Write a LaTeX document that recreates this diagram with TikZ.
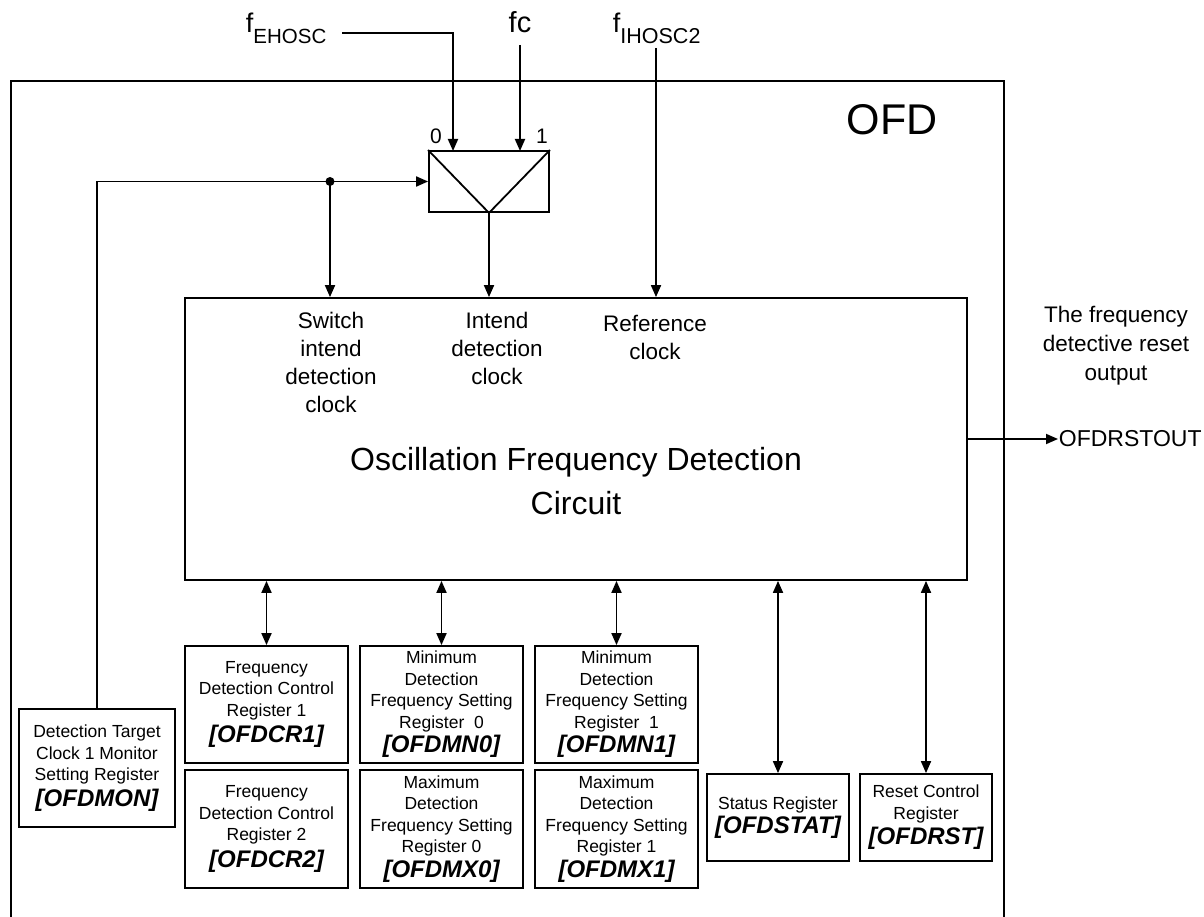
\documentclass[tikz,border=0pt]{standalone}
\usepackage{fontspec}
\setmainfont{Liberation Sans}
\usetikzlibrary{arrows.meta,calc}
\newcommand\fsz[2]{\fontsize{#1}{#2}\selectfont}
\newcommand\regname[1]{{\fsz{24}{26}\bfseries\itshape #1}}
\begin{document}
\begin{tikzpicture}[x=1pt,y=-1pt,line width=1.8pt,
  >={Triangle[length=12pt,width=10pt]},
  reg/.style={draw,align=center,inner sep=0pt,font=\fsz{17.5}{21.5}},
  lbl/.style={align=center,inner sep=0pt}]
\useasboundingbox (0,0) rectangle (1204,917);
% outer OFD frame (bottom is cut off)
\draw (11,917) -- (11,81) -- (1004,81) -- (1004,917);
\node[lbl,font=\fsz{43}{43}] (ofd) at (892,120) {OFD};

% multiplexer
\node[draw,minimum width=120pt,minimum height=61pt,inner sep=0pt] (mux) at (489,181.5) {};
\draw (mux.north west) -- (mux.south) -- (mux.north east);
\node[lbl,font=\fsz{21}{21}] (l0) at (436,136) {0};
\node[lbl,font=\fsz{21}{21}] (l1) at (542,136) {1};
\coordinate (in0) at (453,151);
\coordinate (in1) at (520,151);

% inputs
\node[inner sep=0pt,anchor=base west,font=\fsz{27}{27}] (fe) at (245,33) {f\raisebox{-11pt}{\fsz{20.5}{20.5}EHOSC}};
\node[inner sep=0pt,anchor=base,font=\fsz{29}{29}] (fc) at (520,33) {fc};
\node[inner sep=0pt,anchor=base west,font=\fsz{27}{27}] (fi) at (612,33) {f\raisebox{-11pt}{\fsz{21.5}{21.5}IHOSC2}};
\coordinate (ri) at (656,48);

% main circuit
\node[draw,minimum width=782pt,minimum height=282pt,inner sep=0pt] (main) at (576,439) {};
\node[lbl,font=\fsz{32}{44}] (title) at (576,481) {Oscillation Frequency Detection\\Circuit};
\node[lbl,font=\fsz{22.5}{28}] (swl) at (331,362) {Switch\\intend\\detection\\clock};
\node[lbl,font=\fsz{22.5}{28}] (inl) at (497,348) {Intend\\detection\\clock};
\node[lbl,font=\fsz{22.5}{28}] (rfl) at (655,337) {Reference\\clock};

% select line branch point
\coordinate (dot) at (330,181.5);
\fill (dot) circle (4.5pt);

% output
\node[lbl,font=\fsz{22.5}{29}] (outtxt) at (1116,346) {The frequency\\detective reset\\output};
\node[inner sep=0pt,anchor=west,font=\fsz{23}{23}] (out) at (1058,439) {OFDRSTOUT};

% registers
\node[reg,minimum width=156pt,minimum height=118pt] (mon) at (97,768) {Detection Target\\Clock 1 Monitor\\Setting Register\\[4pt]\regname{[OFDMON]}};
\node[reg,minimum width=163pt,minimum height=117pt] (cr1) at (266.5,704.5) {Frequency\\Detection Control\\Register 1\\[5pt]\regname{[OFDCR1]}};
\node[reg,minimum width=163pt,minimum height=118pt] (cr2) at (266.5,829) {Frequency\\Detection Control\\Register 2\\[5pt]\regname{[OFDCR2]}};
\node[reg,minimum width=163pt,minimum height=117pt] (mn0) at (441.5,704.5) {Minimum\\Detection\\Frequency Setting\\Register~~0\\[3pt]\regname{[OFDMN0]}};
\node[reg,minimum width=163pt,minimum height=118pt] (mx0) at (441.5,829) {Maximum\\Detection\\Frequency Setting\\Register 0\\[3pt]\regname{[OFDMX0]}};
\node[reg,minimum width=163pt,minimum height=117pt] (mn1) at (616.5,704.5) {Minimum\\Detection\\Frequency Setting\\Register~~1\\[3pt]\regname{[OFDMN1]}};
\node[reg,minimum width=163pt,minimum height=118pt] (mx1) at (616.5,829) {Maximum\\Detection\\Frequency Setting\\Register 1\\[3pt]\regname{[OFDMX1]}};
\node[reg,minimum width=142pt,minimum height=87pt] (stat) at (778,817.5) {Status Register\\[3pt]\regname{[OFDSTAT]}};
\node[reg,minimum width=132pt,minimum height=87pt] (rst) at (926,817.5) {Reset Control\\Register\\[4pt]\regname{[OFDRST]}};

% connectors
\draw[->] ([xshift=15pt]fe.base east) -| (in0);
\draw[->] ([yshift=-12pt]fc.base) -- (in1);
\draw[->] (ri) -- (ri |- main.north);
\draw[->] (mon.north) |- (mux.west);
\draw[->] (dot) -- (dot |- main.north);
\draw[->] (mux.south) -- (mux.south |- main.north);
\draw[->] (main.east) -- (out.west);
\draw[<->] (cr1.north |- main.south) -- (cr1.north);
\draw[<->] (mn0.north |- main.south) -- (mn0.north);
\draw[<->] (mn1.north |- main.south) -- (mn1.north);
\draw[<->] (stat.north |- main.south) -- (stat.north);
\draw[<->] (rst.north |- main.south) -- (rst.north);
\end{tikzpicture}
\end{document}
